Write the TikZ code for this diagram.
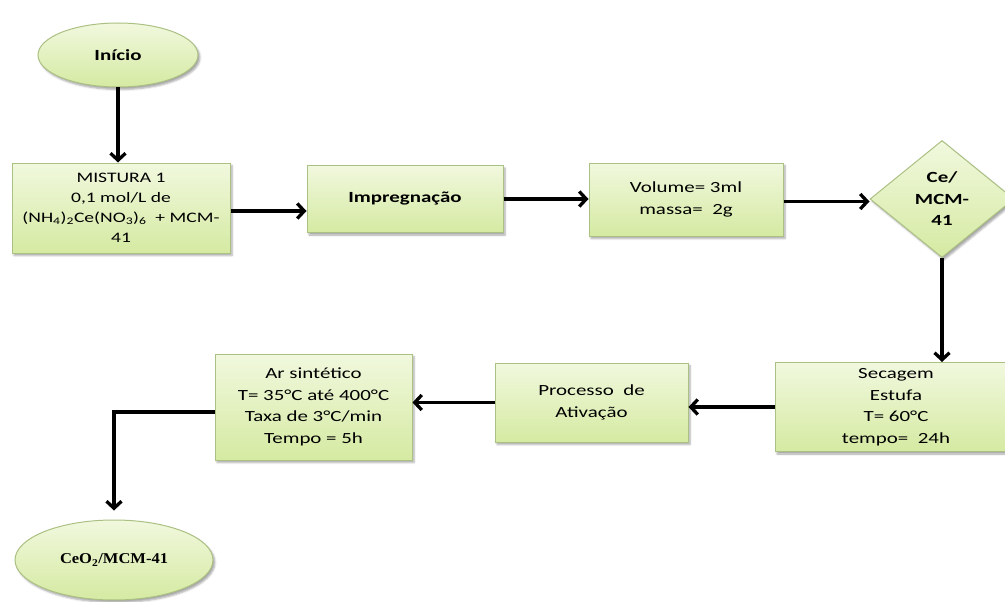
\documentclass[tikz,border=0pt]{standalone}
\usepackage{fontspec}
\setmainfont{Carlito}[FakeStretch=1.35]
\newfontfamily\resultfont{Liberation Serif}[FakeStretch=1.1]
\usetikzlibrary{shapes.geometric,arrows.meta,shadows.blur}

\definecolor{fillTop}{HTML}{F1F8DE}
\definecolor{fillBot}{HTML}{D5EAA2}
\definecolor{edgeGreen}{HTML}{ABC083}

\begin{document}
\begin{tikzpicture}[x=1pt,y=-1pt,
  base/.style={draw=edgeGreen, line width=1pt,
    top color=fillTop, bottom color=fillBot,
    blur shadow={shadow xshift=2pt, shadow yshift=-2.5pt,
      shadow blur steps=4, shadow opacity=35},
    inner sep=0pt, align=center,
    font=\fontsize{15.5}{21.5}\selectfont},
  stepbox/.style={base, rectangle},
  oval/.style={base, ellipse},
  choice/.style={base, diamond, font=\bfseries\fontsize{15.5}{21.5}\selectfont},
  conn/.style={line width=3.3pt,
    -{Straight Barb[length=7pt,width=15pt]}},
]
\useasboundingbox (0,0) rectangle (1005,602);
\begin{scope}
\clip (0,0) rectangle (1005,602);

% flow nodes
\node[oval, minimum width=160pt, minimum height=64pt,
      font=\bfseries\fontsize{15.5}{21.5}\selectfont] (start) at (118,55) {Início};

\node[stepbox, minimum width=218pt, minimum height=90pt,
      font=\fontsize{14.5}{20}\selectfont] (mix) at (121,208)
  {MISTURA 1\\0,1 mol/L de\\(NH\textsubscript{4})\textsubscript{2}Ce(NO\textsubscript{3})\textsubscript{6} \ + MCM-\\41};

\node[stepbox, minimum width=196pt, minimum height=67pt,
      font=\bfseries\fontsize{15.5}{21.5}\selectfont] (impreg) at (405,199) {Impregnação};

\node[stepbox, minimum width=194pt, minimum height=73pt] (vol) at (686,199.5)
  {Volume= 3ml\\massa= \ 2g};

\node[choice, minimum width=144pt, minimum height=117pt] (cemcm) at (942,199)
  {Ce/\\MCM-\\41};

\node[stepbox, minimum width=242pt, minimum height=89pt] (dry) at (896,407)
  {Secagem\\Estufa\\T= 60°C\\tempo= \ 24h};

\node[stepbox, minimum width=193pt, minimum height=79pt] (act) at (591.5,402.5)
  {Processo \ de\\Ativação};

\node[stepbox, minimum width=197pt, minimum height=106pt] (air) at (313.5,407)
  {Ar sintético\\T= 35°C até 400°C\\Taxa de 3°C/min\\Tempo = 5h};

\node[oval, minimum width=198pt, minimum height=80pt,
      font=\resultfont\bfseries\fontsize{15}{20}\selectfont] (final) at (114,560)
  {CeO\textsubscript{2}/MCM-41};

% connectors
\draw[conn] (start.south) -- (start.south |- mix.north);
\draw[conn] ([yshift=-3pt]mix.east) -- ([yshift=-3pt]mix.east -| impreg.west);
\draw[conn] (impreg.east) -- (impreg.east -| vol.west);
\draw[conn] ([yshift=-2pt]vol.east) -- ([yshift=-2pt]vol.east -| cemcm.west);
\draw[conn] (cemcm.south) -- (cemcm.south |- dry.north);
\draw[conn] (dry.west) -- (dry.west -| act.east);
\draw[conn] (act.west) -- (act.west -| air.east);
\draw[conn, shorten >=9pt] ([yshift=-5pt]air.west) -| (final.north);
\end{scope}
\end{tikzpicture}
\end{document}
